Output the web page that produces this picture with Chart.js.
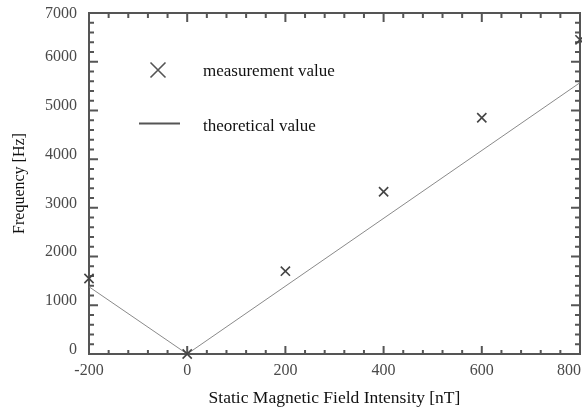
<!DOCTYPE html>
<html><head><meta charset="utf-8">
<script src="https://cdn.jsdelivr.net/npm/chart.js@4.4.1/dist/chart.umd.min.js"></script>
<style>html,body{margin:0;padding:0;background:#fff}#wrap{width:582px;height:412px}</style>
</head><body><div id="wrap"><canvas id="c" width="582" height="412"></canvas></div>
<script>
// ---- data ----
const fieldIntensity = [-200, 0, 200, 400, 600, 800];
const measuredFrequency = [1550, 0, 1700, 3330, 4850, 6450];
const theoryIntensity = [-200, 0, 800];
const theoryFrequency = [1380, 0, 5570];
const xTickLabels = [-200, 0, 200, 400, 600, 800];
const yTickLabels = [0, 1000, 2000, 3000, 4000, 5000, 6000, 7000];
const xMinorStep = 40;
const yMinorStep = 200;
const seriesNames = ['measurement value', 'theoretical value'];

const SERIF = '"Liberation Serif", "Times New Roman", serif';

const framePlugin = {
  id: 'frame',
  beforeDatasetsDraw(chart) {
    const {ctx, chartArea: {left, right, top, bottom}, scales: {x, y}} = chart;
    ctx.save();
    ctx.strokeStyle = '#555';
    ctx.lineWidth = 2;
    ctx.strokeRect(left, top, right - left, bottom - top);
    ctx.beginPath();
    for (let v = x.min; v <= x.max + 1e-9; v += xMinorStep) {
      const px = x.getPixelForValue(v);
      const major = xTickLabels.includes(v);
      const len = major ? 8 : 4;
      ctx.moveTo(px, bottom); ctx.lineTo(px, bottom - len);
      ctx.moveTo(px, top); ctx.lineTo(px, top + (major ? 9 : 5));
    }
    for (let v = y.min; v <= y.max + 1e-9; v += yMinorStep) {
      const py = y.getPixelForValue(v);
      const major = yTickLabels.includes(v);
      const len = major ? 9 : 5;
      ctx.moveTo(left, py); ctx.lineTo(left + len, py);
      ctx.moveTo(right, py); ctx.lineTo(right - len, py);
    }
    ctx.stroke();
    // tick labels
    ctx.fillStyle = '#4a4a4a';
    ctx.font = '16px ' + SERIF;
    ctx.textAlign = 'center';
    ctx.textBaseline = 'alphabetic';
    xTickLabels.forEach(v => {
      const s = String(v);
      const w = ctx.measureText(s).width;
      let cx = x.getPixelForValue(v);
      if (cx + w / 2 > chart.width - 1) cx = chart.width - 1 - w / 2;
      ctx.fillText(s, cx, 375);
    });
    ctx.textAlign = 'right';
    ctx.textBaseline = 'middle';
    yTickLabels.forEach(v => {
      let cy = y.getPixelForValue(v) - 4.5;
      if (cy < 14) cy = 14;
      ctx.fillText(String(v), 77, cy);
    });
    ctx.restore();
  },
  afterDraw(chart) {
    const {ctx} = chart;
    ctx.save();
    // legend: measurement
    ctx.strokeStyle = '#555';
    ctx.lineWidth = 1.6;
    const mx = 158, my = 70, r = 7.5;
    ctx.beginPath();
    ctx.moveTo(mx - r, my - r); ctx.lineTo(mx + r, my + r);
    ctx.moveTo(mx + r, my - r); ctx.lineTo(mx - r, my + r);
    ctx.stroke();
    // legend: theory
    ctx.lineWidth = 2;
    ctx.beginPath();
    ctx.moveTo(139, 123.5); ctx.lineTo(180, 123.5);
    ctx.stroke();
    ctx.fillStyle = '#111';
    ctx.font = '17px ' + SERIF;
    ctx.textAlign = 'left';
    ctx.textBaseline = 'alphabetic';
    ctx.fillText(seriesNames[0], 203, 75.5);
    ctx.fillText(seriesNames[1], 203, 130.5);
    ctx.restore();
  }
};

new Chart(document.getElementById('c'), {
  type: 'scatter',
  data: {
    datasets: [
      {
        label: seriesNames[0],
        data: fieldIntensity.map((v, i) => ({x: v, y: measuredFrequency[i]})),
        pointStyle: 'crossRot',
        pointRadius: 6.5,
        pointBorderWidth: 1.6,
        borderColor: '#444',
        backgroundColor: '#444',
        showLine: false,
        clip: false
      },
      {
        label: seriesNames[1],
        data: theoryIntensity.map((v, i) => ({x: v, y: theoryFrequency[i]})),
        showLine: true,
        borderColor: '#8a8a8a',
        borderWidth: 1,
        pointRadius: 0,
        fill: false
      }
    ]
  },
  options: {
    responsive: false,
    animation: false,
    devicePixelRatio: 1,
    layout: {padding: {top: 13, right: 2, left: 0, bottom: 0}, autoPadding: false},
    plugins: {legend: {display: false}, tooltip: {enabled: false}},
    scales: {
      x: {
        type: 'linear', min: -200, max: 800,
        grid: {display: false, drawTicks: false},
        border: {display: false},
        ticks: {display: false, stepSize: 200},
        title: {display: true, text: 'Static Magnetic Field Intensity [nT]', color: '#111',
          font: {family: SERIF, size: 17.5}, padding: {top: 0, bottom: 3.5}},
        afterFit: s => { s.height = 58; }
      },
      y: {
        type: 'linear', min: 0, max: 7000,
        grid: {display: false, drawTicks: false},
        border: {display: false},
        ticks: {display: false, stepSize: 1000},
        title: {display: true, text: 'Frequency [Hz]', color: '#111',
          font: {family: SERIF, size: 16}, padding: {top: 10, bottom: 0}},
        afterFit: s => { s.width = 89; }
      }
    }
  },
  plugins: [framePlugin]
});
</script>
</body></html>
